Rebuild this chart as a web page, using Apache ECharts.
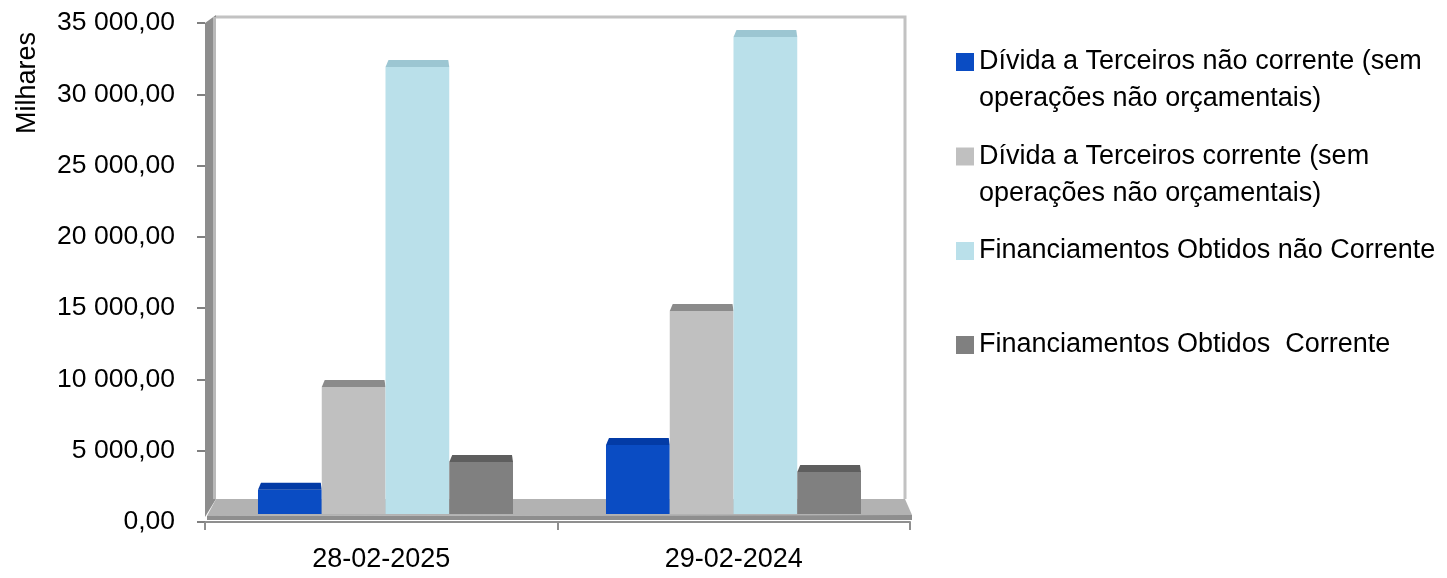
<!DOCTYPE html>
<html>
<head>
<meta charset="utf-8">
<title>Dívida e Financiamentos</title>
<script src="https://cdn.jsdelivr.net/npm/echarts@6/dist/echarts.min.js"></script>
<style>
  html, body { margin: 0; padding: 0; background: #ffffff; }
  #chart { width: 1447px; height: 578px; }
</style>
</head>
<body>
<div id="chart"></div>
<script>
// Categories (dates) and the values of each series, in thousands of euros
const categories = ['28-02-2025', '29-02-2024'];
const dividaNaoCorrente = [1700, 4840];
const dividaCorrente = [8900, 14240];
const financNaoCorrente = [31350, 33460];
const financCorrente = [3650, 2950];

const seriesNames = [
  'Dívida a Terceiros não corrente (sem operações não orçamentais)',
  'Dívida a Terceiros corrente (sem operações não orçamentais)',
  'Financiamentos Obtidos não Corrente',
  'Financiamentos Obtidos  Corrente'
];
const legendLines = [
  ['Dívida a Terceiros não corrente (sem', 'operações não orçamentais)'],
  ['Dívida a Terceiros corrente (sem', 'operações não orçamentais)'],
  ['Financiamentos Obtidos não Corrente'],
  ['Financiamentos Obtidos  Corrente']
];
const yMin = 0;
const yMax = 35000;
const yStep = 5000;

// Front and top-face colours of the boxes
const frontColors = ['#0a4cc3', '#c0c0c0', '#bae0ea', '#808080'];
const topColors = ['#033ba6', '#8b8b8b', '#9cc6d2', '#5e5e5e'];

const FONT = '"Liberation Sans", Arial, sans-serif';
const FS = 27;

// Plot geometry
const G = { left: 205, right: 910, top: 23, bottom: 522 };   // axis frame
const BARS = { left: 211.5, right: 907.5 };                   // band used by the boxes
const BAR_BASE = 514;                                         // front edge where boxes stand
const BAR_RATIO = 0.1832;                                     // box width relative to category band
const DEPTH = 7;                                              // visible depth of the box top

function fmt(v) {
  const s = v.toFixed(2).split('.');
  return s[0].replace(/\B(?=(\d{3})+(?!\d))/g, ' ') + ',' + s[1];
}

function makeRender(idx) {
  return function (params, api) {
    const cat = api.value(0);
    const base = api.coord([cat, 0]);
    const tip = api.coord([cat, api.value(1)]);
    const band = api.size([1, 0])[0];
    const w = band * BAR_RATIO;
    const x0 = base[0] + (idx - 2) * w;
    const y1 = tip[1];
    return {
      type: 'group',
      children: [
        {
          type: 'rect',
          shape: { x: x0, y: y1, width: w, height: base[1] - y1 },
          style: { fill: frontColors[idx] }
        },
        {
          type: 'polygon',
          shape: { points: [[x0, y1], [x0 + w, y1], [x0 + w - 1, y1 - DEPTH], [x0 + 3, y1 - DEPTH]] },
          style: { fill: topColors[idx] }
        }
      ]
    };
  };
}

const values = [dividaNaoCorrente, dividaCorrente, financNaoCorrente, financCorrente];
const series = values.map(function (arr, i) {
  return {
    type: 'custom',
    name: seriesNames[i],
    xAxisIndex: 1,
    yAxisIndex: 1,
    z: 5,
    itemStyle: { color: frontColors[i] },
    encode: { x: 0, y: 1 },
    data: arr.map(function (v, j) { return [j, v]; }),
    renderItem: makeRender(i)
  };
});

// Legend entries: the marker sits beside the first line of each entry
const LH = 37;
const markerCenters = [62, 156.5, 251, 345];
const legends = seriesNames.map(function (name, i) {
  const lines = legendLines[i];
  const text = lines.length > 1 ? '\n' + lines.join('\n') : lines[0];
  const half = lines.length > 1 ? LH * 1.5 : LH / 2;
  return {
    data: [name],
    orient: 'vertical',
    left: 956,
    top: markerCenters[i] - half,
    padding: 0,
    icon: 'rect',
    itemWidth: 18,
    itemHeight: 18,
    selectedMode: false,
    formatter: function () { return text; },
    textStyle: { fontFamily: FONT, fontSize: FS, color: '#000', lineHeight: LH }
  };
});

// 3D frame: side wall, back wall outline and floor
const floorBack = 499;
const wallX = G.left + 11;
const backRight = G.right - 5;
const graphics = [
  {
    type: 'polyline', z: 1, silent: true,
    shape: { points: [[wallX, G.top - 6], [backRight, G.top - 6], [backRight, floorBack]] },
    style: { stroke: '#c2c2c2', lineWidth: 3, fill: null }
  },
  {
    type: 'polygon', z: 1, silent: true,
    shape: { points: [[G.left, G.top], [wallX, G.top - 8], [wallX, floorBack], [G.left, BAR_BASE + 3]] },
    style: { fill: '#8d8d8d' }
  },
  {
    type: 'line', z: 1, silent: true,
    shape: { x1: wallX - 1.5, y1: G.top - 6, x2: wallX - 1.5, y2: floorBack },
    style: { stroke: '#b9b9b9', lineWidth: 3 }
  },
  {
    type: 'polygon', z: 1, silent: true,
    shape: { points: [[wallX, floorBack], [backRight, floorBack], [G.right + 2, BAR_BASE + 1], [G.left + 2, BAR_BASE + 2]] },
    style: { fill: '#b2b2b2' }
  },
  {
    type: 'polygon', z: 1, silent: true,
    shape: { points: [[G.left + 2, BAR_BASE + 2], [G.right + 2, BAR_BASE + 1], [G.right + 2, G.bottom - 2], [G.left + 2, G.bottom - 2]] },
    style: { fill: '#8e8e8e' }
  },
  {
    type: 'text', z: 3,
    x: 28, y: 83, rotation: Math.PI / 2,
    style: { text: 'Milhares', fontFamily: FONT, fontSize: FS, fill: '#000', align: 'center', verticalAlign: 'middle' }
  }
];

const chart = echarts.init(document.getElementById('chart'), null, { renderer: 'canvas' });
chart.setOption({
  animation: false,
  backgroundColor: '#ffffff',
  grid: [
    { left: G.left, right: 1447 - G.right, top: G.top, bottom: 578 - G.bottom, containLabel: false },
    { left: BARS.left, right: 1447 - BARS.right, top: BAR_BASE - (G.bottom - G.top), bottom: 578 - BAR_BASE, containLabel: false }
  ],
  xAxis: [
    {
      type: 'category', gridIndex: 0, data: categories, boundaryGap: true,
      axisLine: { show: true, lineStyle: { color: '#8f8f8f', width: 2 } },
      axisTick: { show: true, length: 8, lineStyle: { color: '#8f8f8f', width: 2 } },
      axisLabel: { margin: 24, fontFamily: FONT, fontSize: FS, color: '#000' },
      splitLine: { show: false }
    },
    {
      type: 'category', gridIndex: 1, data: categories, boundaryGap: true,
      show: false
    }
  ],
  yAxis: [
    {
      type: 'value', gridIndex: 0, min: yMin, max: yMax, interval: yStep,
      axisLine: { show: false },
      axisTick: { show: true, length: 8, lineStyle: { color: '#808080', width: 2 } },
      axisLabel: { margin: 30, fontFamily: FONT, fontSize: 26.5, color: '#000', formatter: fmt },
      splitLine: { show: false }
    },
    {
      type: 'value', gridIndex: 1, min: yMin, max: yMax, interval: yStep, show: false,
      splitLine: { show: false }
    }
  ],
  legend: legends,
  graphic: graphics,
  series: series
});
</script>
</body>
</html>
